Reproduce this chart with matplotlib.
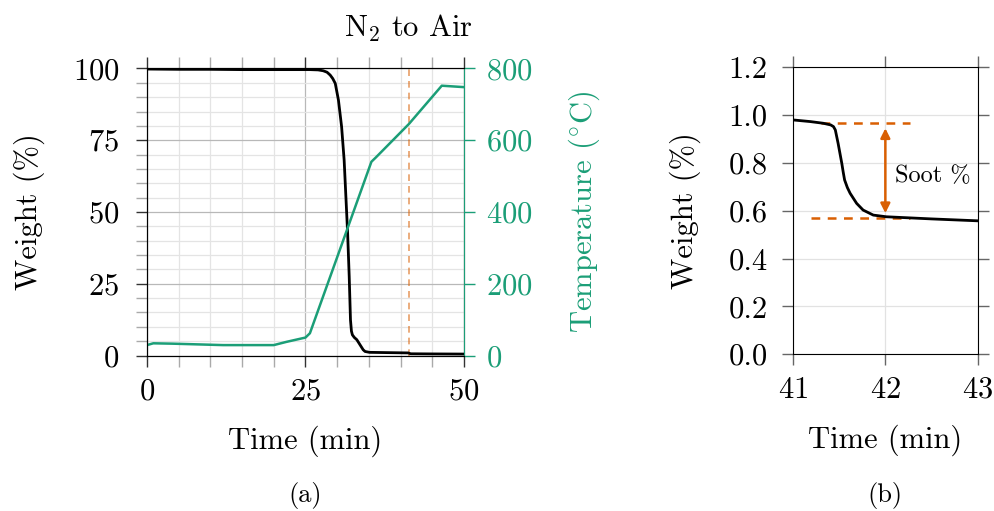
import matplotlib
matplotlib.use('Agg')
import matplotlib.pyplot as plt
from matplotlib.ticker import MultipleLocator, FormatStrFormatter

plt.rcParams['font.family'] = ['cmr10', 'DejaVu Serif']
plt.rcParams['mathtext.fontset'] = 'cm'
plt.rcParams['axes.formatter.use_mathtext'] = True
plt.rcParams['font.size'] = 22
plt.rcParams['lines.solid_joinstyle'] = 'round'

GREEN = '#1b9e77'
ORANGE = '#d95f02'

# (a) weight loss over the full run
time_a = [0, 5, 10, 15, 20, 25, 25.7, 27.0, 27.8, 28.4, 28.9, 29.3, 29.7, 30.2, 30.7,
          31.1, 31.4, 31.65, 31.9, 32.1, 32.25, 32.4, 32.7, 33.1, 33.7, 34.1, 34.4,
          35.1, 38, 41.2, 41.6, 45, 50]
weight_a = [99.8, 99.7, 99.7, 99.6, 99.6, 99.6, 99.6, 99.5, 99.2, 98.7, 97.7, 96.5,
            94.8, 89, 79.7, 68.1, 54.2, 42.6, 27.5, 12.4, 8.5, 7.2, 6.3, 5.5, 3.4,
            2.0, 1.4, 1.1, 1.0, 0.9, 0.6, 0.55, 0.5]

# furnace temperature
temp_time = [0, 1, 4, 8, 12, 16, 20, 22, 25, 25.7, 35.4, 36.1, 41.3, 46.5, 50]
temp_vals = [29, 34, 33, 31, 29, 29, 29, 38, 50, 62, 540, 552, 645, 752, 748]

switch_time = 41.3  # gas switched from N2 to air

# (b) zoom around the switch
time_b = [41.0, 41.19, 41.33, 41.41, 41.44, 41.46, 41.49, 41.53, 41.545, 41.56, 41.59,
          41.62, 41.69, 41.76, 41.87, 42.01, 42.5, 43.0]
weight_b = [0.980, 0.973, 0.966, 0.959, 0.952, 0.938, 0.882, 0.798, 0.762, 0.729, 0.697,
            0.673, 0.631, 0.603, 0.582, 0.575, 0.566, 0.558]
soot_top = 0.966
soot_bottom = 0.569

fig = plt.figure(figsize=(9.95, 5.11), dpi=100)

# ---- panel (a)
ax = fig.add_axes([0.1477, 0.3043, 0.3186, 0.5617])
ax.set_xlim(0, 50)
ax.set_ylim(0, 100)
ax.set_xticks([0, 25, 50])
ax.xaxis.set_minor_locator(MultipleLocator(5))
ax.set_yticks([0, 25, 50, 75, 100])
ax.yaxis.set_minor_locator(MultipleLocator(5))
ax.grid(which='major', color='#b8b8b8', lw=0.9)
ax.grid(which='minor', color='#e4e4e4', lw=0.9)
ax.set_axisbelow(True)
ax.tick_params(which='both', direction='out', top=True, length=8, width=1)
ax.tick_params(which='major', color='#333333')
ax.tick_params(which='minor', color='#aaaaaa')
ax.tick_params(axis='x', pad=8)
ax.tick_params(axis='y', pad=12)

ax.axvline(switch_time, color=ORANGE, alpha=0.6, lw=1.2, ls=(0, (4, 3)))
ax.plot(time_a, weight_a, color='black', lw=2.0, zorder=3)
ax.set_ylabel('Weight (%)', labelpad=20)
ax.set_xlabel('Time (min)', labelpad=15)

ax2 = ax.twinx()
ax2.set_ylim(0, 800)
ax2.set_yticks([0, 200, 400, 600, 800])
ax2.plot(temp_time, temp_vals, color=GREEN, lw=1.8)
ax2.spines['right'].set_color(GREEN)
ax2.tick_params(axis='y', colors=GREEN, direction='out', length=8, width=1, pad=8)
ax2.set_ylabel(r'Temperature ($^{\circ}$C)', color=GREEN, labelpad=24)

fig.text(408 / 995, 1 - 36.7 / 511, r'N$_2$ to Air', ha='center', va='baseline')
fig.text(305 / 995, 1 - 501.7 / 511, '(a)', ha='center', va='baseline', fontsize=19)

# ---- panel (b)
bx = fig.add_axes([0.7967, 0.3067, 0.1862, 0.5616])
bx.set_xlim(41, 43)
bx.set_ylim(0, 1.2)
bx.set_xticks([41, 42, 43])
bx.set_yticks([0, 0.2, 0.4, 0.6, 0.8, 1.0, 1.2])
bx.yaxis.set_major_formatter(FormatStrFormatter('%.1f'))
bx.grid(color='#e2e2e2', lw=0.9)
bx.set_axisbelow(True)
bx.tick_params(direction='out', top=True, right=True, length=8, width=1, color='#666666')
bx.tick_params(axis='x', pad=8)
bx.tick_params(axis='y', pad=10)

bx.plot(time_b, weight_b, color='black', lw=2.0, zorder=3)
bx.plot([41.31, 42.27], [soot_top, soot_top], color=ORANGE, lw=1.8, ls=(0, (3.5, 3)))
bx.plot([41.2, 42.27], [soot_bottom, soot_bottom], color=ORANGE, lw=1.8, ls=(0, (3.5, 3)))
bx.annotate('', xy=(42, 0.59), xytext=(42, 0.945),
            arrowprops=dict(arrowstyle='<|-|>', color=ORANGE, lw=1.8,
                            mutation_scale=14, shrinkA=0, shrinkB=0))
bx.text(42.10, 0.745, 'Soot %', fontsize=17.5, va='center', ha='left')
bx.set_ylabel('Weight (%)', labelpad=20)
bx.set_xlabel('Time (min)', labelpad=15)

fig.text(885 / 995, 1 - 501.7 / 511, '(b)', ha='center', va='baseline', fontsize=19)

fig.savefig('out.png', dpi=100)
